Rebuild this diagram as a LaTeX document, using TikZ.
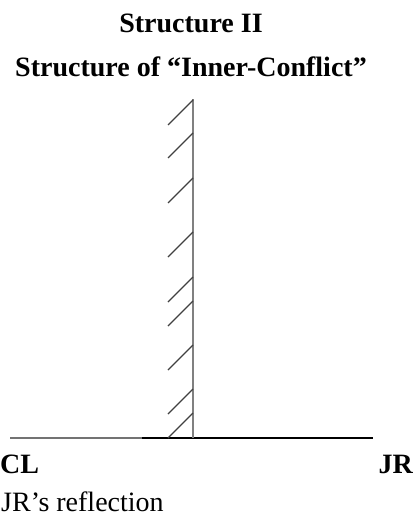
\documentclass[tikz,border=0pt]{standalone}
\usepackage{fontspec}
\setmainfont{Liberation Serif}
\begin{document}
\begin{tikzpicture}[x=1pt,y=-1pt,
  bold/.style={inner sep=0pt,font=\bfseries\fontsize{28}{30}\selectfont},
  plain/.style={inner sep=0pt,font=\fontsize{28}{30}\selectfont},
  mirror/.style={draw=black!50,line width=1.4pt},
  hatch/.style={draw=black!75,line width=1.3pt},
  floorgray/.style={draw=black!55,line width=1.4pt},
  floorblack/.style={draw=black,line width=1.4pt}]
\useasboundingbox (0,0) rectangle (418,519);
\node[bold,anchor=base] (t1) at (191,33) {Structure II};
\node[bold,anchor=base] (t2) at (191,77) {Structure of “Inner-Conflict”};
\coordinate (top) at (193,99);
\coordinate (foot) at (193,438);
\coordinate (L) at (10,438);
\coordinate (M) at (142,438);
\coordinate (R) at (373,438);
\draw[floorgray] (L) -- (M);
\draw[floorblack] (M) -- (R);
\draw[mirror] (top) -- (foot);
\foreach \y in {100,133,178,232,277,301,345,389,413}
  \draw[hatch] (193,\y) -- ++(-25,25);
\node[bold,anchor=base west] (cl) at (0,473) {CL};
\node[bold,anchor=base east] (jr) at (413,473) {JR};
\node[plain,anchor=base west] (refl) at (1,511) {JR’s reflection};
\end{tikzpicture}
\end{document}
